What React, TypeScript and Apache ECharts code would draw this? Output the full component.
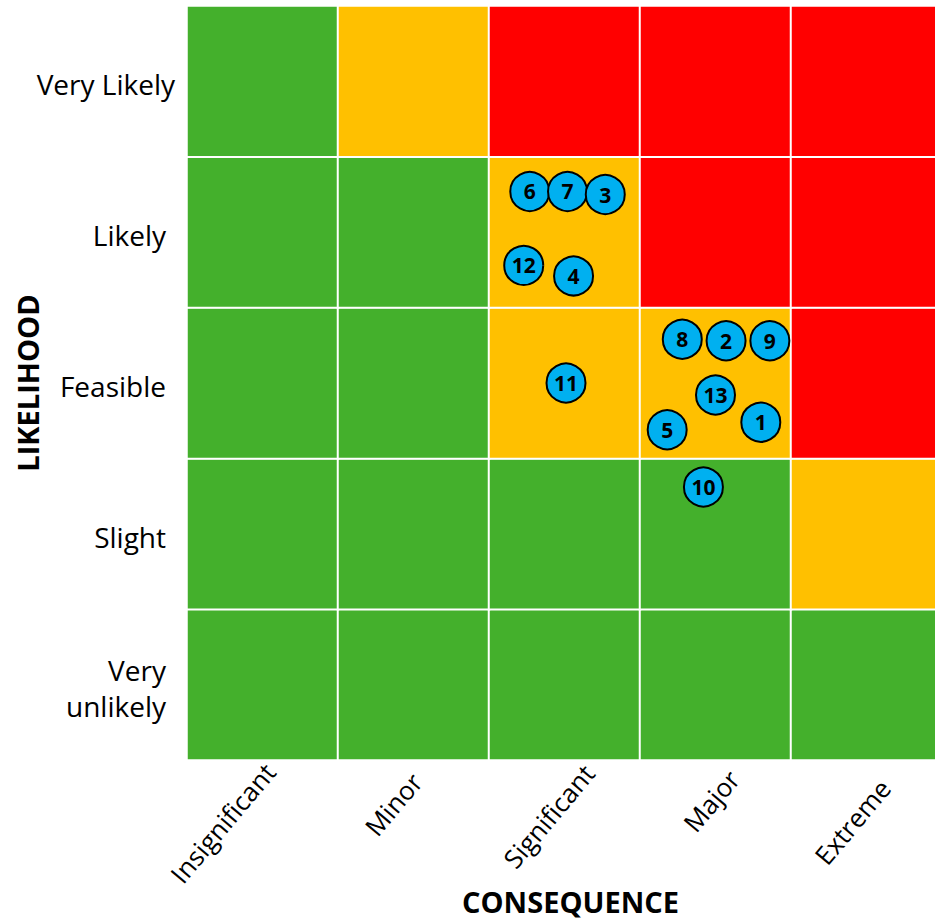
import React, { useEffect, useRef } from "react";
import * as echarts from "echarts";

const consequences = ["Insignificant", "Minor", "Significant", "Major", "Extreme"];
const likelihoods = ["Very unlikely", "Slight", "Feasible", "Likely", "Very Likely"];

// risk level per cell: rows from bottom (Very unlikely) to top (Very Likely), columns Insignificant..Extreme
// 1 = low (green), 2 = medium (amber), 3 = high (red)
const riskRows = [
  [1, 1, 1, 1, 1],
  [1, 1, 1, 1, 2],
  [1, 1, 2, 2, 3],
  [1, 1, 2, 3, 3],
  [1, 2, 3, 3, 3],
];

// risks: id, consequence position, likelihood position (0..5 scale)
const riskIds = [12, 4, 6, 7, 3, 11, 8, 2, 9, 13, 5, 1, 10];
const riskX = [2.23, 2.56, 2.27, 2.52, 2.77, 2.51, 3.28, 3.57, 3.86, 3.5, 3.18, 3.8, 3.42];
const riskY = [3.28, 3.21, 3.77, 3.77, 3.75, 2.5, 2.79, 2.78, 2.78, 2.42, 2.19, 2.24, 1.81];

const FONT = "Open Sans";

// per-label nudges (style only) to mimic the original's label placement
const xLabelPads = [
  [2, -10, 0, 0],
  [8, 0, 0, 0],
  [30, -20, 0, 0],
  [28, -12, 0, 0],
  [40, -5, 0, 0],
];

export default function App() {
  const ref = useRef<HTMLDivElement>(null);
  useEffect(() => {
    if (!ref.current) return;
    const chart = echarts.init(ref.current, undefined, { renderer: "svg" });
    const cells: number[][] = [];
    riskRows.forEach((row, y) => row.forEach((v, x) => cells.push([x, y, v])));
    const grid = {
      left: 187,
      top: 6,
      width: 755,
      height: 754,
      containLabel: false,
      outerBoundsMode: "none",
    };
    const xRich: Record<string, any> = {};
    xLabelPads.forEach((p, i) => {
      xRich["c" + i] = { fontSize: 26, fontFamily: FONT, color: "#000", padding: p };
    });
    chart.setOption({
      animation: false,
      textStyle: { fontFamily: FONT },
      grid: [grid, { ...grid }],
      visualMap: {
        type: "piecewise",
        show: false,
        seriesIndex: 0,
        dimension: 2,
        pieces: [
          { value: 1, color: "#44B02C" },
          { value: 2, color: "#FFC000" },
          { value: 3, color: "#FF0000" },
        ],
      },
      xAxis: [
        {
          type: "category",
          gridIndex: 0,
          data: consequences,
          axisLine: { show: false },
          axisTick: { show: false },
          splitLine: { show: false },
          axisLabel: {
            rotate: 50,
            margin: 14,
            fontSize: 26,
            color: "#000",
            fontFamily: FONT,
            formatter: (v: string, i: number) => `{c${i}|${v}}`,
            rich: xRich,
          },
          name: "CONSEQUENCE",
          nameLocation: "middle",
          nameGap: 127,
          nameMoveOverlap: false,
          nameTextStyle: {
            fontSize: 29,
            fontWeight: "bold",
            color: "#000",
            fontFamily: FONT,
            padding: [0, 0, 0, 12],
          },
        },
        { type: "value", gridIndex: 1, min: 0, max: 5, show: false },
      ],
      yAxis: [
        {
          type: "category",
          gridIndex: 0,
          data: likelihoods,
          axisLine: { show: false },
          axisTick: { show: false },
          splitLine: { show: false },
          axisLabel: {
            margin: 12,
            color: "#000",
            fontFamily: FONT,
            formatter: (v: string) =>
              v === "Very Likely" ? `{a|${v}}` : `{b|${v.replace("Very ", "Very\n")}}`,
            rich: {
              a: { fontSize: 28, lineHeight: 34, fontFamily: FONT, color: "#000", padding: [6, 0, 0, 0] },
              b: { fontSize: 28, lineHeight: 36, fontFamily: FONT, color: "#000", padding: [6, 9, 0, 0], align: "right" },
            },
          },
          name: "LIKELIHOOD",
          nameLocation: "middle",
          nameGap: 145,
          nameMoveOverlap: false,
          nameTextStyle: {
            fontSize: 29,
            fontWeight: "bold",
            color: "#000",
            fontFamily: FONT,
          },
        },
        { type: "value", gridIndex: 1, min: 0, max: 5, show: false },
      ],
      series: [
        {
          type: "heatmap",
          xAxisIndex: 0,
          yAxisIndex: 0,
          data: cells,
          itemStyle: { borderColor: "#fff", borderWidth: 2 },
          label: { show: false },
          emphasis: { disabled: true },
        },
        {
          type: "scatter",
          xAxisIndex: 1,
          yAxisIndex: 1,
          symbolSize: 39,
          data: riskIds.map((id, i) => [riskX[i], riskY[i], id]),
          itemStyle: { color: "#00B0F0", borderColor: "#000", borderWidth: 2, opacity: 1 },
          label: {
            show: true,
            position: "inside",
            formatter: (p: any) => String(p.value[2]),
            fontSize: 21,
            fontWeight: "bold",
            color: "#000",
            fontFamily: FONT,
          },
          z: 5,
        },
      ],
    });
    return () => chart.dispose();
  }, []);
  return (
    <div
      ref={ref}
      style={{ position: "fixed", left: 0, top: 0, width: 935, height: 922, background: "#fff" }}
    />
  );
}
